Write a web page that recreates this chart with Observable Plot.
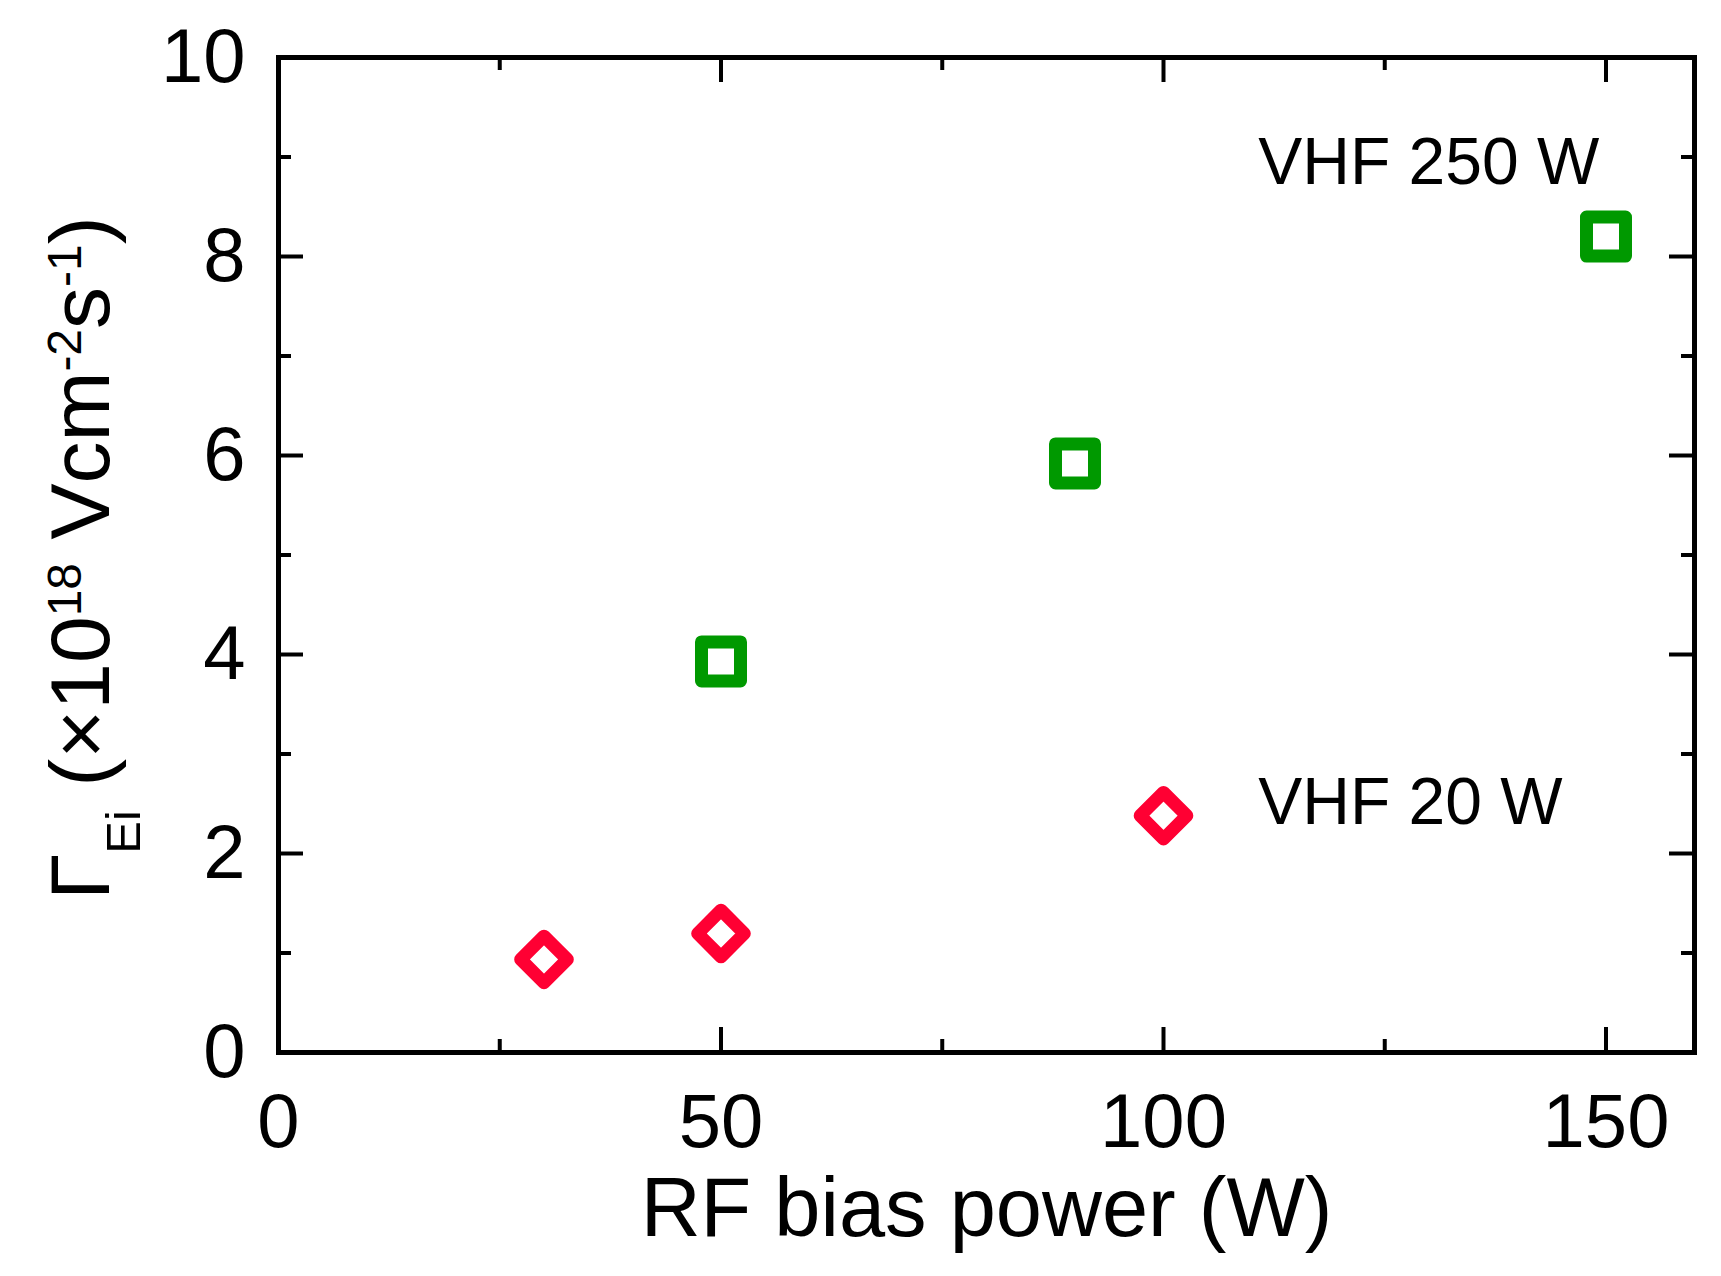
<!DOCTYPE html>
<html>
<head>
<meta charset="utf-8">
<script src="https://cdn.jsdelivr.net/npm/d3@7"></script>
<script src="https://cdn.jsdelivr.net/npm/@observablehq/plot@0.6"></script>
<style>
  html, body { margin: 0; padding: 0; background: #fff; }
  svg { display: block; }
</style>
</head>
<body>
<div id="chart"></div>
<script>
// ---- data ----
const vhf250Power = [50, 90, 150];
const vhf250Flux  = [3.93, 5.92, 8.20];
const vhf20Power  = [30, 50, 100];
const vhf20Flux   = [0.935, 1.196, 2.38];

const xMajorTicks = [0, 50, 100, 150];
const xMinorTicks = [25, 75, 125];
const yMajorTicks = [0, 2, 4, 6, 8, 10];
const yMinorTicks = [1, 3, 5, 7, 9];

const annotationText = ["VHF 250 W", "VHF 20 W"];
const annotationX = [110.7, 110.7];
const annotationY = [8.73, 2.30];

const xLabel = "RF bias power (W)";

// ---- layout ----
const W = 1721, H = 1276;
const mL = 278, mR = 27, mT = 57, mB = 224;
const plotW = W - mL - mR, plotH = H - mT - mB;
const majorLen = 25, minorLen = 13;
const font = "'Liberation Sans', Arial, sans-serif";

const green = "#009900";
const red = "#ff0033";

const sq = vhf250Power.map((x, i) => ({x, y: vhf250Flux[i]}));
const dm = vhf20Power.map((x, i) => ({x, y: vhf20Flux[i]}));
const ann = annotationText.map((t, i) => ({t, x: annotationX[i], y: annotationY[i]}));

const tickStyle = {stroke: "black", strokeWidth: 4};

const chart = Plot.plot({
  width: W,
  height: H,
  marginLeft: mL, marginRight: mR, marginTop: mT, marginBottom: mB,
  style: {fontFamily: font, background: "white"},
  x: {domain: [0, 160], axis: null},
  y: {domain: [0, 10], axis: null},
  marks: [
    // inward ticks on all four sides
    Plot.tickX(xMajorTicks, {x: d => d, insetTop: plotH - majorLen, ...tickStyle}),
    Plot.tickX(xMinorTicks, {x: d => d, insetTop: plotH - minorLen, ...tickStyle}),
    Plot.tickX(xMajorTicks, {x: d => d, insetBottom: plotH - majorLen, ...tickStyle}),
    Plot.tickX(xMinorTicks, {x: d => d, insetBottom: plotH - minorLen, ...tickStyle}),
    Plot.tickY(yMajorTicks, {y: d => d, insetRight: plotW - majorLen, ...tickStyle}),
    Plot.tickY(yMinorTicks, {y: d => d, insetRight: plotW - minorLen, ...tickStyle}),
    Plot.tickY(yMajorTicks, {y: d => d, insetLeft: plotW - majorLen, ...tickStyle}),
    Plot.tickY(yMinorTicks, {y: d => d, insetLeft: plotW - minorLen, ...tickStyle}),
    Plot.frame({stroke: "black", strokeWidth: 5}),
    // tick labels
    Plot.axisX(xMajorTicks, {anchor: "bottom", tickSize: 0, tickPadding: 41, fontSize: 76, label: null, fill: "black", tickFormat: d => String(d)}),
    Plot.axisY(yMajorTicks, {anchor: "left", tickSize: 0, tickPadding: 33, fontSize: 76, label: null, fill: "black", tickFormat: d => String(d)}),
    // x axis title
    Plot.text([xLabel], {frameAnchor: "bottom", dy: 183, lineAnchor: "bottom", fontSize: 83, fill: "black"}),
    // data
    Plot.dot(sq, {x: "x", y: "y", symbol: "square", r: 22, stroke: green, strokeWidth: 13, fill: "white", strokeLinejoin: "round"}),
    Plot.dot(dm, {x: "x", y: "y", symbol: "diamond2", r: 21, stroke: red, strokeWidth: 13, fill: "white", strokeLinejoin: "round"}),
    // annotations
    Plot.text(ann, {x: "x", y: "y", text: "t", textAnchor: "start", lineAnchor: "bottom", fontSize: 66, fill: "black"})
  ]
});

// y axis title with sub/superscripts
const svg = d3.select(chart);
const t = svg.append("text")
  .attr("transform", "translate(109,900) rotate(-90)")
  .attr("text-anchor", "start")
  .attr("font-family", font)
  .attr("font-size", 84)
  .attr("fill", "black");
const parts = [
  {s: "\u0393", size: 84, dy: 0},
  {s: "Ei", size: 49, dy: 31},
  {s: "\u00a0(\u00d710", size: 84, dy: -31},
  {s: "18", size: 48, dy: -28},
  {s: " Vcm", size: 84, dy: 28},
  {s: "-2", size: 48, dy: -28},
  {s: "s", size: 84, dy: 28},
  {s: "-1", size: 48, dy: -28},
  {s: ")", size: 84, dy: 28}
];
for (const p of parts) {
  t.append("tspan").attr("font-size", p.size).attr("dy", p.dy).text(p.s);
}

document.getElementById("chart").appendChild(chart);
</script>
</body>
</html>
